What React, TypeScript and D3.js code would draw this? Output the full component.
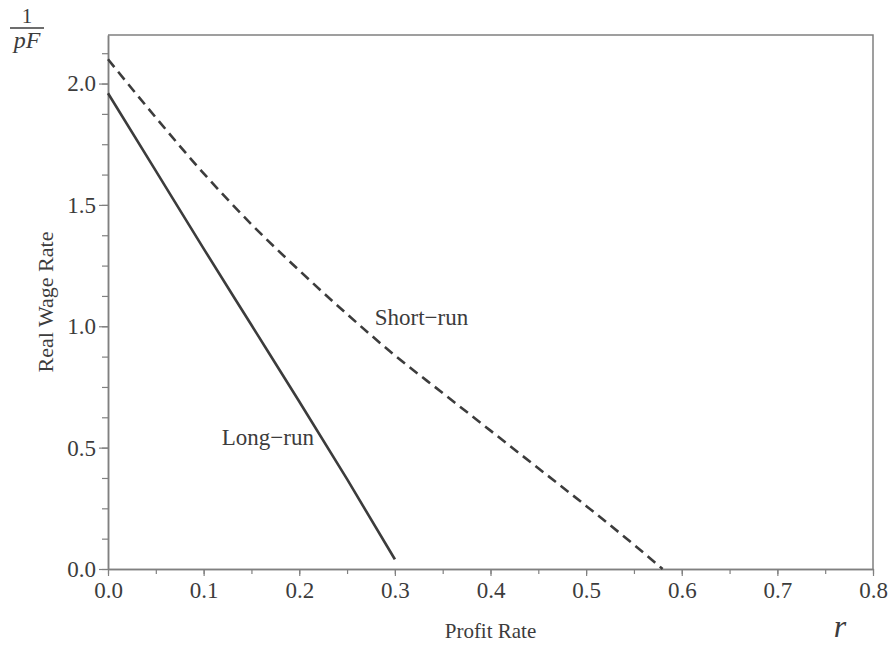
import React, { useEffect, useRef } from 'react';
import * as d3 from 'd3';

// profit rate r -> real wage rate 1/pF
const longRunR = [0, 0.05, 0.1, 0.15, 0.2, 0.25, 0.3];
const longRunW = [1.96, 1.64, 1.32, 1.005, 0.69, 0.37, 0.04];

const shortRunR = [0, 0.05, 0.1, 0.15, 0.2, 0.25, 0.3, 0.35, 0.4, 0.45, 0.5, 0.55, 0.58];
const shortRunW = [2.1, 1.86, 1.63, 1.42, 1.23, 1.05, 0.88, 0.725, 0.57, 0.415, 0.26, 0.1, 0.0];

const xMajorTicks = [0, 0.1, 0.2, 0.3, 0.4, 0.5, 0.6, 0.7, 0.8];
const yMajorTicks = [0, 0.5, 1.0, 1.5, 2.0];

const FONT = '"Liberation Serif", "Times New Roman", serif';
const INK = '#3c3c3c';
const AXIS = '#808080';

export default function App() {
    const svgRef = useRef<SVGSVGElement>(null);
    const width = 891;
    const height = 648;

    useEffect(() => {
        const svg = d3.select(svgRef.current);
        svg.selectAll('*').remove();

        const margin = { top: 35, right: 18, bottom: 79, left: 108 };
        const innerWidth = width - margin.left - margin.right;
        const innerHeight = height - margin.top - margin.bottom;

        const x = d3.scaleLinear().domain([0, 0.8]).range([0, innerWidth]);
        const y = d3.scaleLinear().domain([0, 2.2]).range([innerHeight, 0]);

        const g = svg.append('g')
            .attr('transform', `translate(${margin.left},${margin.top})`);

        // frame (top + right)
        g.append('path')
            .attr('d', `M0,0H${innerWidth}V${innerHeight}`)
            .attr('fill', 'none')
            .attr('stroke', AXIS)
            .attr('stroke-width', 1.5);

        const styleAxis = (sel) => {
            sel.select('.domain').attr('stroke', AXIS).attr('stroke-width', 1.5);
            sel.selectAll('.tick line').attr('stroke', AXIS).attr('stroke-width', 1.2);
            sel.selectAll('.tick text')
                .attr('fill', INK)
                .style('font-family', FONT)
                .style('font-size', '23px');
        };

        // x axis: minor then major
        g.append('g')
            .attr('transform', `translate(0,${innerHeight})`)
            .call(d3.axisBottom(x).tickValues(d3.range(0, 0.81, 0.05)).tickSize(5).tickFormat(() => '').tickSizeOuter(0))
            .call(styleAxis);
        g.append('g')
            .attr('transform', `translate(0,${innerHeight})`)
            .call(d3.axisBottom(x).tickValues(xMajorTicks).tickSize(7).tickPadding(6).tickFormat(d3.format('.1f')).tickSizeOuter(0))
            .call(styleAxis);

        // y axis: minor then major
        g.append('g')
            .call(d3.axisLeft(y).tickValues(d3.range(0, 2.2, 0.125)).tickSize(6).tickFormat(() => '').tickSizeOuter(0))
            .call(styleAxis);
        g.append('g')
            .call(d3.axisLeft(y).tickValues(yMajorTicks).tickSize(9).tickPadding(3).tickFormat(d3.format('.1f')).tickSizeOuter(0))
            .call(styleAxis);

        const longLine = d3.line<number>()
            .x((d) => x(d))
            .y((_, i) => y(longRunW[i]))
            .curve(d3.curveMonotoneX);
        const shortLine = d3.line<number>()
            .x((d) => x(d))
            .y((_, i) => y(shortRunW[i]))
            .curve(d3.curveMonotoneX);

        g.append('path')
            .datum(shortRunR)
            .attr('fill', 'none')
            .attr('stroke', INK)
            .attr('stroke-width', 2.6)
            .attr('stroke-dasharray', '10,6')
            .attr('d', shortLine);

        g.append('path')
            .datum(longRunR)
            .attr('fill', 'none')
            .attr('stroke', INK)
            .attr('stroke-width', 2.6)
            .attr('d', longLine);

        // curve labels
        g.append('text')
            .attr('x', x(0.279))
            .attr('y', y(1.0) - 1)
            .attr('fill', INK)
            .style('font-family', FONT)
            .style('font-size', '23px')
            .text('Short\u2212run');
        g.append('text')
            .attr('x', x(0.119))
            .attr('y', y(0.51))
            .attr('fill', INK)
            .style('font-family', FONT)
            .style('font-size', '23px')
            .text('Long\u2212run');

        // axis titles
        svg.append('text')
            .attr('x', margin.left + innerWidth / 2)
            .attr('y', 638)
            .attr('text-anchor', 'middle')
            .attr('fill', INK)
            .style('font-family', FONT)
            .style('font-size', '21px')
            .text('Profit Rate');
        svg.append('text')
            .attr('transform', `translate(53,${margin.top + innerHeight / 2}) rotate(-90)`)
            .attr('text-anchor', 'middle')
            .attr('fill', INK)
            .style('font-family', FONT)
            .style('font-size', '22px')
            .text('Real Wage Rate');

        svg.append('text')
            .attr('x', 840)
            .attr('y', 637)
            .attr('text-anchor', 'middle')
            .attr('fill', INK)
            .style('font-family', FONT)
            .style('font-style', 'italic')
            .style('font-size', '32px')
            .text('r');

        // 1/pF fraction
        svg.append('text')
            .attr('x', 27)
            .attr('y', 23)
            .attr('text-anchor', 'middle')
            .attr('fill', INK)
            .style('font-family', FONT)
            .style('font-size', '21px')
            .text('1');
        svg.append('line')
            .attr('x1', 10).attr('x2', 44)
            .attr('y1', 28).attr('y2', 28)
            .attr('stroke', INK)
            .attr('stroke-width', 1.5);
        svg.append('text')
            .attr('x', 27)
            .attr('y', 48)
            .attr('text-anchor', 'middle')
            .attr('fill', INK)
            .style('font-family', FONT)
            .style('font-style', 'italic')
            .style('font-size', '24px')
            .text('pF');
    }, []);

    return (
        <svg
            ref={svgRef}
            width={width}
            height={height}
            style={{ position: 'absolute', left: 0, top: 0, background: '#fff' }}
        />
    );
}
